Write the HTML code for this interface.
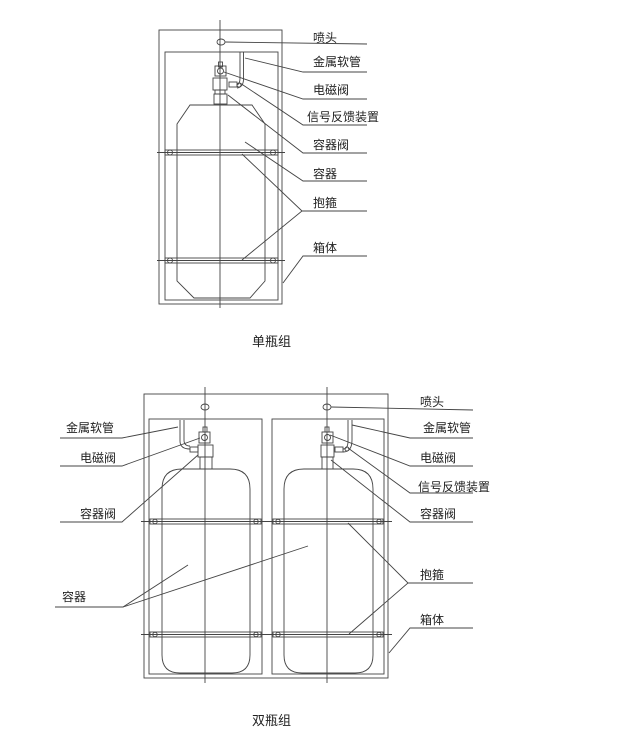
<!DOCTYPE html>
<html><head><meta charset="utf-8"><style>
html,body{margin:0;padding:0;background:#fff;width:621px;height:754px;overflow:hidden}
svg{display:block}
text{font-family:"Liberation Sans","Noto Sans CJK SC",sans-serif;font-size:12px;fill:#222}
</style></head><body>
<svg width="621" height="754" viewBox="0 0 621 754" fill="none" stroke="#444" stroke-width="0.9">
<!-- ===== Single ===== -->
<rect x="159" y="30" width="123" height="274"/>
<rect x="165" y="52" width="113" height="248"/>
<line x1="220" y1="20" x2="220" y2="308"/>
<ellipse cx="221" cy="42" rx="4" ry="3"/>
<!-- valve -->
<rect x="218.5" y="62" width="4" height="5"/>
<rect x="215" y="66" width="11" height="10"/>
<circle cx="220.5" cy="71" r="3"/>
<rect x="213" y="78" width="14" height="12"/>
<rect x="229" y="82" width="8" height="5"/>
<rect x="215" y="90" width="10" height="4"/>
<rect x="214" y="94" width="13" height="10"/>
<path d="M240 52 V78 Q240 84 237 85 M243.5 52 V79 Q243.5 87 237 88"/>
<circle cx="239" cy="85" r="2"/>
<!-- cylinder -->
<path d="M190 105 H252 L265 124 V281 L250 298 H194 L177 281 V124 Z"/>
<!-- straps -->
<rect x="165" y="150" width="113" height="5"/>
<line x1="157" y1="152.5" x2="285" y2="152.5"/>
<circle cx="170" cy="152.5" r="2.5"/><circle cx="273" cy="152.5" r="2.5"/>
<rect x="165" y="258" width="113" height="5"/>
<line x1="157" y1="260.5" x2="285" y2="260.5"/>
<circle cx="170" cy="260.5" r="2.5"/><circle cx="273" cy="260.5" r="2.5"/>
<!-- leaders -->
<polyline points="225,42 367,44"/>
<polyline points="245,58 303,72 367,72"/>
<polyline points="224,72 303,99 367,99"/>
<polyline points="240,83 303,125 367,125"/>
<polyline points="228,95 303,153 367,153"/>
<polyline points="245,142 303,181 367,181"/>
<polyline points="242,154 302,211 242,260"/>
<line x1="302" y1="211" x2="367" y2="211"/>
<polyline points="283,283 303,256 367,256"/>

<!-- ===== Double ===== -->
<rect x="144" y="394" width="244" height="284"/>
<rect x="149" y="419" width="113" height="255"/>
<rect x="272" y="419" width="112" height="255"/>
<line x1="205" y1="387" x2="205" y2="683"/>
<line x1="327" y1="387" x2="327" y2="683"/>
<ellipse cx="205" cy="407" rx="4" ry="3"/>
<ellipse cx="327" cy="407" rx="4" ry="3"/>
<!-- left valve -->
<rect x="203" y="427" width="4" height="5"/>
<rect x="199" y="432" width="11" height="11"/>
<circle cx="204.5" cy="437.5" r="3"/>
<rect x="198" y="445" width="15" height="12"/>
<rect x="190" y="447" width="8" height="5"/>
<rect x="200" y="457" width="12" height="12"/>
<path d="M180 420 V441 Q180 449 190 449 M184 420 V440 Q184 446 190 446"/>
<!-- right valve -->
<rect x="325" y="427" width="4" height="5"/>
<rect x="322" y="432" width="11" height="11"/>
<circle cx="327.5" cy="437.5" r="3"/>
<rect x="321" y="445" width="13" height="12"/>
<rect x="335" y="447" width="8" height="5"/>
<rect x="322" y="457" width="11" height="12"/>
<path d="M348 420 V441 Q348 449 343 449 M352 420 V440 Q352 452 343 452"/>
<circle cx="347" cy="449" r="2"/>
<!-- cylinders -->
<path d="M182 469 H230 Q250 469 250 489 V655 Q250 673 232 673 H180 Q162 673 162 655 V489 Q162 469 182 469 Z"/>
<path d="M304 469 H353 Q373 469 373 489 V655 Q373 673 355 673 H302 Q284 673 284 655 V489 Q284 469 304 469 Z"/>
<!-- straps -->
<rect x="150" y="519" width="111" height="5"/><rect x="273" y="519" width="110" height="5"/>
<line x1="141" y1="521.5" x2="392" y2="521.5"/>
<rect x="150" y="632" width="111" height="5"/><rect x="273" y="632" width="110" height="5"/>
<line x1="141" y1="634.5" x2="392" y2="634.5"/>
<circle cx="155" cy="521.5" r="2.2"/><circle cx="256" cy="521.5" r="2.2"/><circle cx="278" cy="521.5" r="2.2"/><circle cx="379" cy="521.5" r="2.2"/>
<circle cx="155" cy="634.5" r="2.2"/><circle cx="256" cy="634.5" r="2.2"/><circle cx="278" cy="634.5" r="2.2"/><circle cx="379" cy="634.5" r="2.2"/>
<!-- left leaders -->
<polyline points="60,438 122,438 178,427"/>
<polyline points="60,466 122,466 200,438"/>
<polyline points="60,522 122,522 198,455"/>
<polyline points="55,607 123,607 188,565"/>
<line x1="123" y1="607" x2="308" y2="546"/>
<!-- right leaders -->
<polyline points="331,407 473,410"/>
<polyline points="352,425 410,438 473,438"/>
<polyline points="330,435 410,466 473,466"/>
<polyline points="348,448 410,493 473,493"/>
<polyline points="331,460 410,522 473,522"/>
<polyline points="348,523 408,583 349,634"/>
<line x1="408" y1="583" x2="473" y2="583"/>
<polyline points="389,653 410,628 473,628"/>

<g stroke="none">
<text x="313" y="42">喷头</text>
<text x="313" y="66">金属软管</text>
<text x="313" y="94">电磁阀</text>
<text x="307" y="121">信号反馈装置</text>
<text x="313" y="149">容器阀</text>
<text x="313" y="178">容器</text>
<text x="313" y="207">抱箍</text>
<text x="313" y="252">箱体</text>
<text x="252" y="346" style="font-size:13px">单瓶组</text>

<text x="66" y="432">金属软管</text>
<text x="80" y="462">电磁阀</text>
<text x="80" y="518">容器阀</text>
<text x="62" y="601">容器</text>
<text x="420" y="406">喷头</text>
<text x="423" y="432">金属软管</text>
<text x="420" y="462">电磁阀</text>
<text x="418" y="491">信号反馈装置</text>
<text x="420" y="518">容器阀</text>
<text x="420" y="579">抱箍</text>
<text x="420" y="624">箱体</text>
<text x="252" y="725" style="font-size:13px">双瓶组</text>
</g>
</svg>
</body></html>
